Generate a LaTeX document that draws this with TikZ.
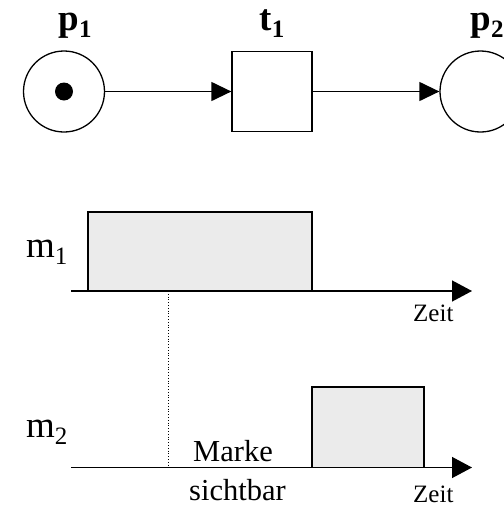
\documentclass[tikz,border=0pt]{standalone}
\usepackage{fontspec}
\setmainfont{Liberation Serif}
\usetikzlibrary{arrows.meta}
\newcommand{\lowsub}[1]{\raisebox{-7pt}{\fontsize{25}{25}\selectfont #1}}
\tikzset{
  place/.style={circle,draw,line width=1.3pt,minimum size=81pt,inner sep=0pt},
  trans/.style={rectangle,draw,line width=1.3pt,minimum size=80pt,inner sep=0pt},
  arc/.style={line width=1.3pt,-{Triangle[length=20pt,width=19pt]}},
  axis/.style={line width=1.4pt,-{Triangle[length=20pt,width=21pt]}},
  bar/.style={draw,line width=1.3pt,fill=black!8},
  netlabel/.style={font=\fontsize{37}{40}\selectfont\bfseries,inner sep=0pt,anchor=base},
  sig/.style={font=\fontsize{37}{40}\selectfont,inner sep=0pt,anchor=base west},
  note/.style={font=\fontsize{30.5}{34}\selectfont,inner sep=0pt,anchor=base},
  zeit/.style={font=\fontsize{25}{28}\selectfont,inner sep=0pt,anchor=base west}
}
\begin{document}
\begin{tikzpicture}[x=1pt,y=-1pt]
\useasboundingbox (0,0) rectangle (504,507);
\clip (0,0) rectangle (504,507);
% Petri net
\node[place] (p1) at (64,91.5) {};
\fill (p1.center) circle (9pt);
\node[trans] (t1) at (272,91.5) {};
\node[place] (p2) at (480.5,91.5) {};
\draw[arc] (p1) -- (t1);
\draw[arc] (t1) -- (p2);
\node[netlabel] (lp1) at (75,30) {p\lowsub{\bfseries 1}};
\node[netlabel] (lt1) at (272,30) {t\lowsub{\bfseries 1}};
\node[netlabel] (lp2) at (487,30) {p\lowsub{\bfseries 2}};
% timeline m1
\coordinate (a1s) at (71,291);
\coordinate (a1e) at (472,291);
\draw[bar] (88,212) rectangle (312,291);
\draw[axis] (a1s) -- (a1e);
\node[sig] (m1) at (26,257) {m\lowsub{1}};
\node[zeit] (z1) at (413,321) {Zeit};
% timeline m2
\coordinate (a2s) at (71,467.5);
\coordinate (a2e) at (472,467.5);
\draw[bar] (312,387) rectangle (424,467.5);
\draw[axis] (a2s) -- (a2e);
\node[sig] (m2) at (26,437) {m\lowsub{2}};
\node[zeit] (z2) at (413,502) {Zeit};
% dotted marker
\coordinate (d1) at (168,291);
\coordinate (d2) at (168,467.5);
\draw[line width=0.8pt,dotted] (d1) -- (d2);
\node[note] (mk) at (233,461) {Marke};
\node[note] (sb) at (237.5,500) {sichtbar};
\end{tikzpicture}
\end{document}
